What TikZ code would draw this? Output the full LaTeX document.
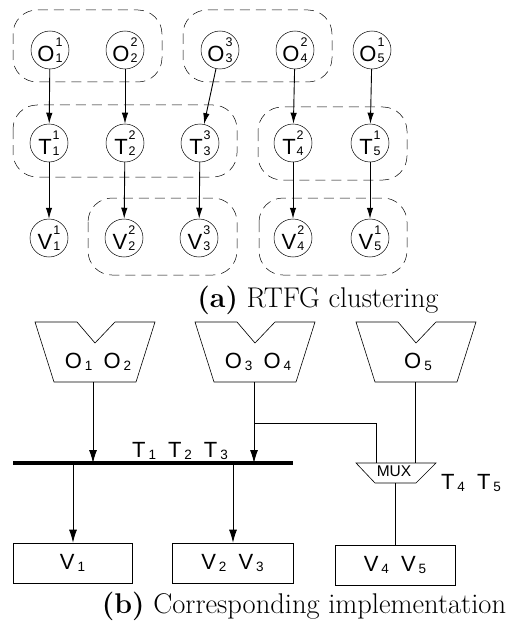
\documentclass[tikz,border=0pt]{standalone}
\usepackage{fontspec}
\newfontfamily\hv{Liberation Sans}
\usetikzlibrary{arrows.meta}
\newcommand\cl[3]{{\fontsize{22}{22}\selectfont #1}\kern1pt{\fontsize{12.5}{12.5}\selectfont\rlap{\raisebox{15pt}{#2}}\raisebox{-1pt}{#3}}}
\newcommand\sbt[2]{{\fontsize{22}{22}\selectfont #1}\kern3pt\raisebox{-2pt}{\fontsize{13.5}{13.5}\selectfont #2}}
\begin{document}
\begin{tikzpicture}[x=1pt,y=-1pt,
  cn/.style={circle,draw,line width=0.5pt,minimum size=38pt,inner sep=0pt,font=\hv},
  arr/.style={line width=0.9pt,-{Latex[length=11pt,width=6.5pt]}},
  barr/.style={line width=0.9pt,-{Latex[length=13pt,width=8pt]}},
  wire/.style={line width=0.9pt},
  clus/.style={dashed,dash pattern=on 10pt off 6pt,line width=0.5pt,rounded corners=24pt},
  shp/.style={line width=0.6pt},
  box/.style={draw,line width=0.6pt,inner sep=0pt,font=\hv,minimum height=40pt},
  captext/.style={font=\fontsize{28.5}{28.5}\selectfont,anchor=base}]
\useasboundingbox (0,0) rectangle (526,623);
% ---------- (a) ----------
\node[cn] (O1) at (50,50) {\cl{O}{1}{1}};
\node[cn] (O2) at (125,50) {\cl{O}{2}{2}};
\node[cn] (O3) at (220,50) {\cl{O}{3}{3}};
\node[cn] (O4) at (295,50) {\cl{O}{2}{4}};
\node[cn] (O5) at (372,50) {\cl{O}{1}{5}};
\node[cn] (T1) at (49,143) {\cl{T}{1}{1}};
\node[cn] (T2) at (125,143) {\cl{T}{2}{2}};
\node[cn] (T3) at (200,143) {\cl{T}{3}{3}};
\node[cn] (T4) at (293,143) {\cl{T}{2}{4}};
\node[cn] (T5) at (370,143) {\cl{T}{1}{5}};
\node[cn] (V1) at (49,238) {\cl{V}{1}{1}};
\node[cn] (V2) at (124,238) {\cl{V}{2}{2}};
\node[cn] (V3) at (199,238) {\cl{V}{3}{3}};
\node[cn] (V4) at (293,238) {\cl{V}{2}{4}};
\node[cn] (V5) at (370,238) {\cl{V}{1}{5}};
\foreach \i in {1,...,5}{
  \draw[arr] (O\i) -- (T\i);
  \draw[arr] (T\i) -- (V\i);
}
\draw[clus] (13,10) rectangle (162,82);
\draw[clus] (183,10) rectangle (332,82);
\draw[clus] (13,105) rectangle (237,177);
\draw[clus] (258,107) rectangle (407,180);
\draw[clus] (88,198) rectangle (237,275);
\draw[clus] (259,198) rectangle (407,275);
\node[captext] (capa) at (318,307) {\textbf{(a)} RTFG clustering};
% ---------- (b) ----------
\foreach \l in {35,195,356}{
  \draw[shp] (\l,322) -- ++(42,0) -- ++(18,21) -- ++(20,-21) -- ++(40,0)
     -- ++(-19,60) -- ++(-82,0) -- cycle;
}
\coordinate (A) at (93,382);
\coordinate (B) at (254,382);
\coordinate (C) at (415,382);
\node[font=\hv] (oa) at (98,362) {\sbt{O}{1}\hspace{11pt}\sbt{O}{2}};
\node[font=\hv] (ob) at (258,362) {\sbt{O}{3}\hspace{11pt}\sbt{O}{4}};
\node[font=\hv] (oc) at (418,362) {\sbt{O}{5}};
\coordinate (busL) at (13,463);
\coordinate (busR) at (293,463);
\draw[line width=3.5pt] (busL) -- (busR);
\node[font=\hv] (tb) at (180,451) {\sbt{T}{1}\hspace{12pt}\sbt{T}{2}\hspace{12pt}\sbt{T}{3}};
\coordinate (bA) at (93,463);
\coordinate (bB) at (254,463);
\coordinate (br) at (254,423);
\draw[barr] (A) -- (bA);
\draw[barr] (B) -- (bB);
% MUX
\draw[shp] (356,463) -- (436,463) -- (416,483) -- (375,483) -- cycle;
\node[font=\hv\fontsize{15.5}{15.5}\selectfont] (mux) at (394,471) {MUX};
\coordinate (mA) at (376,463);
\coordinate (mB) at (415,463);
\coordinate (mC) at (395,483);
\node[font=\hv] (tm) at (471,483) {\sbt{T}{4}\hspace{12pt}\sbt{T}{5}};
\draw[wire] (br) -| (mA);
\draw[wire] (C) -- (mB);
% V boxes
\node[box,minimum width=119pt] (W1) at (72.5,563) {\sbt{V}{1}};
\node[box,minimum width=121pt] (W2) at (232.5,563) {\sbt{V}{2}\hspace{12pt}\sbt{V}{3}};
\node[box,minimum width=120pt] (W3) at (395,565) {\sbt{V}{4}\hspace{12pt}\sbt{V}{5}};
\coordinate (d1) at (73,463);
\coordinate (d2) at (233,463);
\draw[barr] (d1) -- (d1 |- W1.north);
\draw[barr] (d2) -- (d2 |- W2.north);
\draw[wire] (mC) -- (mC |- W3.north);
\node[captext] (capb) at (304,613) {\textbf{(b)} Corresponding implementation};
\end{tikzpicture}
\end{document}
